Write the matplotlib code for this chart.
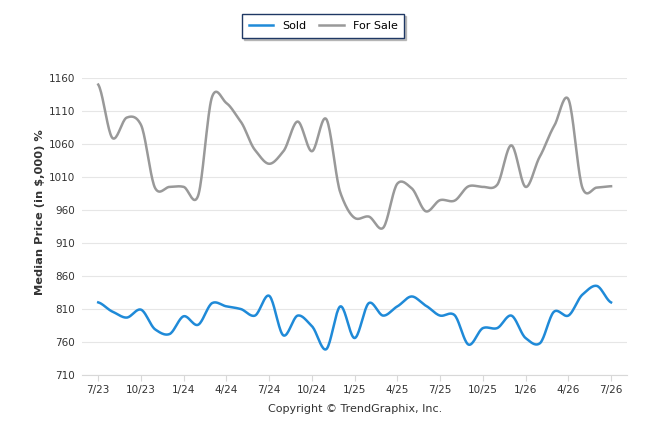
import numpy as np
import matplotlib
matplotlib.use("Agg")
import matplotlib.pyplot as plt

months = ["7/23", "8/23", "9/23", "10/23", "11/23", "12/23", "1/24", "2/24", "3/24",
          "4/24", "5/24", "6/24", "7/24", "8/24", "9/24", "10/24", "11/24", "12/24",
          "1/25", "2/25", "3/25", "4/25", "5/25", "6/25", "7/25", "8/25", "9/25",
          "10/25", "11/25", "12/25", "1/26", "2/26", "3/26", "4/26", "5/26", "6/26", "7/26"]

sold = [820, 806, 797, 809, 779, 772, 799, 786, 819,
        814, 810, 800, 830, 770, 800, 784, 749, 814,
        766, 819, 800, 814, 829, 815, 800, 801, 756,
        781, 781, 800, 766, 758, 806, 800, 832, 845, 820]

for_sale = [1150, 1069, 1100, 1089, 993, 995, 995, 981, 1132,
            1122, 1094, 1051, 1030, 1049, 1094, 1049, 1098, 986,
            948, 950, 933, 1000, 993, 958, 975, 974, 996,
            995, 998, 1058, 995, 1041, 1087, 1128, 993, 994, 996]

tick_labels = ["7/23", "10/23", "1/24", "4/24", "7/24", "10/24", "1/25",
               "4/25", "7/25", "10/25", "1/26", "4/26", "7/26"]
y_ticks = [710, 760, 810, 860, 910, 960, 1010, 1060, 1110, 1160]


def smooth(y, n=20, k=0.8):
    # hermite curve through the monthly values, slightly tightened tangents
    y = np.asarray(y, dtype=float)
    p = np.concatenate([[y[0]], y, [y[-1]]])
    m = k * (p[2:] - p[:-2]) / 2
    t = np.linspace(0, 1, n, endpoint=False)
    h00 = 2 * t ** 3 - 3 * t ** 2 + 1
    h10 = t ** 3 - 2 * t ** 2 + t
    h01 = -2 * t ** 3 + 3 * t ** 2
    h11 = t ** 3 - t ** 2
    xs, ys = [], []
    for i in range(len(y) - 1):
        xs.extend(i + t)
        ys.extend(h00 * y[i] + h10 * m[i] + h01 * y[i + 1] + h11 * m[i + 1])
    xs.append(len(y) - 1)
    ys.append(y[-1])
    return np.array(xs), np.array(ys)


fig = plt.figure(figsize=(6.46, 4.34), dpi=100)
ax = fig.add_axes([82 / 646, 1 - 375 / 434, 545 / 646, 297 / 434])

x1, y1 = smooth(sold)
x2, y2 = smooth(for_sale)
ln1, = ax.plot(x1, y1, color="#1f8ad8", lw=1.8, label="Sold")
ln2, = ax.plot(x2, y2, color="#999999", lw=1.8, label="For Sale")

ax.set_xlim(-1.14, 37.12)
ax.set_ylim(710, 1160)
ax.set_yticks(y_ticks)
ax.set_xticks([months.index(m) for m in tick_labels])
ax.set_xticklabels(tick_labels)
ax.grid(axis="y", color="#e6e6e6", lw=0.8)
ax.set_axisbelow(True)
for s in ["top", "right", "left"]:
    ax.spines[s].set_visible(False)
ax.spines["bottom"].set_color("#d8d8d8")
ax.tick_params(axis="y", length=0, pad=5, labelsize=7.5, labelcolor="#333333")
ax.tick_params(axis="x", length=4, color="#d8d8d8", pad=3, labelsize=7.5, labelcolor="#333333")

ax.set_ylabel("Median Price (in $,000) %", fontsize=8.2, fontweight="bold", color="#333333")
ax.yaxis.set_label_coords((45 - 82) / 545, (375 - 212) / 297)

fig.text(355 / 646, 1 - 409 / 434, "Copyright \u00a9 TrendGraphix, Inc.",
         ha="center", va="center", fontsize=8, color="#333333")

leg = fig.legend(handles=[ln1, ln2], loc="center", bbox_to_anchor=(323 / 646, 1 - 26 / 434),
                 ncol=2, frameon=True, fancybox=False,
                 shadow={"ox": 1.5, "oy": -1.5, "color": "#999999", "alpha": 0.6},
                 fontsize=8, handlelength=2.2, columnspacing=1.2, borderpad=0.6)
leg.get_frame().set_edgecolor("#1f3864")
leg.get_frame().set_linewidth(1.0)

fig.savefig("out.png", dpi=100)
